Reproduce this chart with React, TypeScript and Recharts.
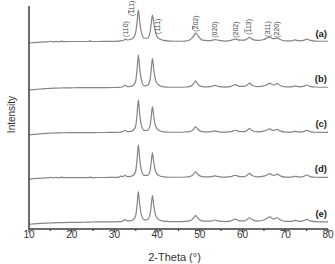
import React from 'react';
import { LineChart, Line, XAxis, YAxis, ReferenceDot } from 'recharts';

// ---------- data ----------
const twoTheta = [
  10, 12, 14, 14.7, 15, 15.3, 16, 17.4, 17.7, 18,
  20, 22, 24, 24.3, 24.6, 26, 28, 30, 31, 31.5,
  32, 32.5, 33, 33.8, 34.5, 35, 35.3, 35.6, 35.9, 36.3,
  37, 37.7, 38.3, 38.6, 38.9, 39.2, 39.6, 40.3, 41.5, 43,
  45, 46.5, 47.5, 48.3, 48.7, 49, 49.4, 50, 51, 52.5,
  53.5, 54.5, 56, 57.3, 58.3, 59.3, 60.5, 61.1, 61.6, 62.2,
  63.5, 65, 65.8, 66.4, 67.1, 67.5, 68.1, 68.8, 70, 71.5,
  72.3, 73.2, 74.3, 75, 75.8, 77, 78.5, 80,
];

const patternA = [
  14, 15.5, 16.5, 16.8, 18.5, 16.9, 17, 17.2, 19, 17.3,
  17.4, 17.5, 17.5, 19.5, 17.5, 17.5, 17.6, 17.8, 18.2, 19.5,
  19, 23, 21, 22, 27, 40, 62, 91, 65, 40,
  25, 25, 37, 58, 79, 62, 40, 25, 20, 18.5,
  18, 18.5, 20.5, 27, 33, 37, 33, 25, 20, 19.5,
  22, 20, 18.5, 20, 23, 20.5, 20.5, 24, 27, 23,
  20, 22, 26, 27.5, 24, 24, 25.5, 22, 19, 19,
  21, 19, 20, 23, 20, 18.5, 18, 18,
];

const patternB = [
  9, 10.5, 12, 12.5, 12.6, 12.7, 13, 13.3, 13.4, 13.5,
  13.8, 14, 14, 14, 14, 14.2, 14.3, 14.5, 14.8, 15,
  16.5, 20, 16.5, 17, 20, 30, 55, 87, 58, 32,
  18, 19, 30, 52, 79, 55, 32, 20, 16, 15,
  15, 15.5, 16.5, 20, 25, 29, 24, 18, 16, 16.5,
  19, 16.5, 15.5, 17, 21, 17, 17, 20, 24, 19.5,
  16.5, 18, 21, 24, 20, 20.5, 23, 19, 16, 16,
  18, 16, 17, 20, 17, 15.5, 15, 15,
];

const patternC = [
  9, 11, 12.5, 12.8, 13, 13.1, 13.4, 13.7, 13.8, 13.9,
  14.1, 14.2, 14.3, 14.3, 14.3, 14.4, 14.5, 14.7, 15, 15.2,
  16.5, 19.5, 16.5, 17, 20, 30, 55, 87, 57, 31,
  19, 19, 28, 48, 72, 50, 30, 19.5, 16, 15,
  15, 15.5, 16.5, 19.5, 24, 27, 23, 18, 16, 16,
  18, 16, 15.5, 16.5, 19.5, 16.5, 16.5, 19.5, 23, 19,
  16, 17.5, 20.5, 22.5, 19, 19.5, 21.5, 18, 15.5, 15.5,
  17, 15.5, 16.5, 19, 16.5, 15, 14.8, 14.8,
];

const patternD = [
  11, 12.5, 13.5, 13.7, 15.5, 13.8, 14, 14, 15.8, 14,
  14.2, 14.2, 14.3, 16, 14.3, 14.4, 14.5, 14.7, 15.2, 17.5,
  16.5, 19.5, 16.5, 17, 20, 30, 55, 87, 57, 31,
  19, 19, 28, 47, 70, 49, 29, 19.5, 16, 15,
  15, 15.5, 16.5, 19.5, 24, 27, 23, 18, 16, 16,
  18, 16, 15.5, 16.5, 19.5, 16.5, 16.5, 20, 23.5, 19,
  16, 17.5, 20.5, 23, 19.5, 19.5, 22, 18, 15.5, 15.5,
  17, 15.5, 17, 20, 16.5, 15, 14.8, 14.8,
];

const patternE = [
  10.5, 12, 13, 13.3, 13.4, 13.5, 13.8, 14.1, 14.2, 14.3,
  14.6, 14.9, 15.3, 15.4, 15.5, 15.8, 15.8, 16, 16.3, 16.5,
  18, 21, 18, 18.5, 21.5, 31, 53, 83, 56, 32,
  20.5, 21, 31, 51, 74, 53, 32, 21, 17.5, 16.5,
  16.5, 17, 18, 22, 27, 30, 26, 20, 17.5, 17.5,
  20, 17.5, 16.5, 18, 22, 18, 18, 21.5, 25, 21,
  17.5, 20, 24, 27, 22.5, 23, 25, 20.5, 17, 17,
  19, 17, 18.5, 21.5, 18, 16.5, 16, 16,
];

const panelKeys = ['a', 'b', 'c', 'd', 'e'];
const panelTags = ['(a)', '(b)', '(c)', '(d)', '(e)'];

const xTicks = [10, 15, 20, 25, 30, 35, 40, 45, 50, 55, 60, 65, 70, 75, 80];
const yTicks = [0, 50, 100];

// Miller-index labels of panel (a); '-' marks an overlined digit
const hklText = ['(110)', '(-111)', '(111)', '(-202)', '(020)', '(202)', '(-113)', '(311)', '(220)'];
const hklTheta = [32.5, 34.1, 40.2, 49.0, 53.5, 58.4, 61.3, 65.9, 68.0];
const hklY = [28, 77, 35, 40, 26, 26, 33, 28, 26];

const rows = twoTheta.map((t, i) => ({
  t,
  a: patternA[i],
  b: patternB[i],
  c: patternC[i],
  d: patternD[i],
  e: patternE[i],
}));

// ---------- layout / style ----------
const W = 335;
const H = 264;
const panelTop = [6, 49, 94, 139, 184];
const panelBottom = [49, 94, 139, 184, 229];
const AXIS = '#3a3a3a';
const LINE = '#858585';
const FONT = 'Liberation Sans, Arial, Helvetica, sans-serif';

function renderHkl(s: string) {
  const parts: React.ReactNode[] = [];
  for (let i = 0; i < s.length; i++) {
    if (s[i] === '-') {
      parts.push(
        <tspan key={i} style={{ textDecoration: 'overline' }}>
          {s[i + 1]}
        </tspan>
      );
      i++;
    } else {
      parts.push(<tspan key={i}>{s[i]}</tspan>);
    }
  }
  return parts;
}

function XTick(props: any) {
  const { x, y, payload, showLabel } = props;
  const v = payload.value;
  const major = v % 10 === 0;
  return (
    <g>
      <line x1={x} x2={x} y1={y} y2={y + (major ? 3.5 : 2)} stroke={AXIS} strokeWidth={1.2} />
      {showLabel && major && (
        <text x={x} y={y + 2} dy="0.71em" textAnchor="middle" fontSize={10} fill="#333" fontFamily={FONT}>
          {v}
        </text>
      )}
    </g>
  );
}

function Panel({ idx }: { idx: number }) {
  const key = panelKeys[idx];
  const isLast = idx === panelKeys.length - 1;
  const top = panelTop[idx];
  const bottom = panelBottom[idx];
  const xAxisH = isLast ? 30 : 0;
  const plotH = bottom - top;
  const tagY = (16 / plotH) * 100;
  return (
    <div style={{ position: 'absolute', left: 0, top: 0 }}>
      <LineChart
        width={W}
        height={H}
        data={rows}
        margin={{ top, right: 7, bottom: H - bottom - xAxisH, left: 0 }}
      >
        <XAxis
          type="number"
          dataKey="t"
          domain={[10, 80]}
          ticks={xTicks}
          interval={0}
          allowDataOverflow
          height={xAxisH}
          tickSize={0}
          tickMargin={0}
          tickLine={false}
          axisLine={{ stroke: AXIS, strokeWidth: 1.5 }}
          tick={(p: any) => <XTick {...p} showLabel={isLast} />}
          label={
            isLast
              ? (p: any) => {
                  const vb = p.viewBox;
                  return (
                    <text
                      x={vb.x + vb.width / 2 - 4}
                      y={vb.y + 32}
                      textAnchor="middle"
                      fontSize={11}
                      fill="#333"
                      fontFamily={FONT}
                    >
                      2-Theta (°)
                    </text>
                  );
                }
              : undefined
          }
        />
        <YAxis
          type="number"
          domain={[0, 100]}
          ticks={yTicks}
          interval={0}
          allowDataOverflow
          width={29}
          tick={false}
          tickSize={3}
          tickLine={{ stroke: AXIS, strokeWidth: 1.2 }}
          axisLine={{ stroke: AXIS, strokeWidth: 1.5 }}
          label={
            idx === 2
              ? (p: any) => {
                  const vb = p.viewBox;
                  const cx = vb.x + 11;
                  const cy = vb.y + vb.height / 2 - 2;
                  return (
                    <text
                      x={cx}
                      y={cy}
                      transform={`rotate(-90 ${cx} ${cy})`}
                      textAnchor="middle"
                      dominantBaseline="central"
                      fontSize={10}
                      fill="#333"
                      fontFamily={FONT}
                    >
                      Intensity
                    </text>
                  );
                }
              : undefined
          }
        />
        <Line
          type="monotone"
          dataKey={key}
          stroke={LINE}
          strokeWidth={1.2}
          dot={false}
          activeDot={false}
          isAnimationActive={false}
        />
        <ReferenceDot
          x={80}
          y={tagY}
          r={0}
          fill="none"
          stroke="none"
          label={(p: any) => {
            const vb = p.viewBox;
            return (
              <text
                x={vb.x - 1}
                y={vb.y + 3.5}
                textAnchor="end"
                fontSize={9.5}
                fontWeight="bold"
                fill="#222"
                fontFamily={FONT}
              >
                {panelTags[idx]}
              </text>
            );
          }}
        />
        {idx === 0 &&
          hklText.map((s, i) => (
            <ReferenceDot
              key={s + i}
              x={hklTheta[i]}
              y={hklY[i]}
              r={0}
              fill="none"
              stroke="none"
              label={(p: any) => {
                const vb = p.viewBox;
                const x = vb.x;
                const y = vb.y;
                return (
                  <text
                    x={x}
                    y={y}
                    dy="0.35em"
                    transform={`rotate(-90 ${x} ${y})`}
                    textAnchor="start"
                    fontSize={7}
                    fill="#444"
                    fontFamily={FONT}
                  >
                    {renderHkl(s)}
                  </text>
                );
              }}
            />
          ))}
      </LineChart>
    </div>
  );
}

export default function App() {
  return (
    <div style={{ position: 'absolute', left: 0, top: 0, width: W, height: H, background: '#fff' }}>
      {panelKeys.map((k, i) => (
        <Panel key={k} idx={i} />
      ))}
    </div>
  );
}
